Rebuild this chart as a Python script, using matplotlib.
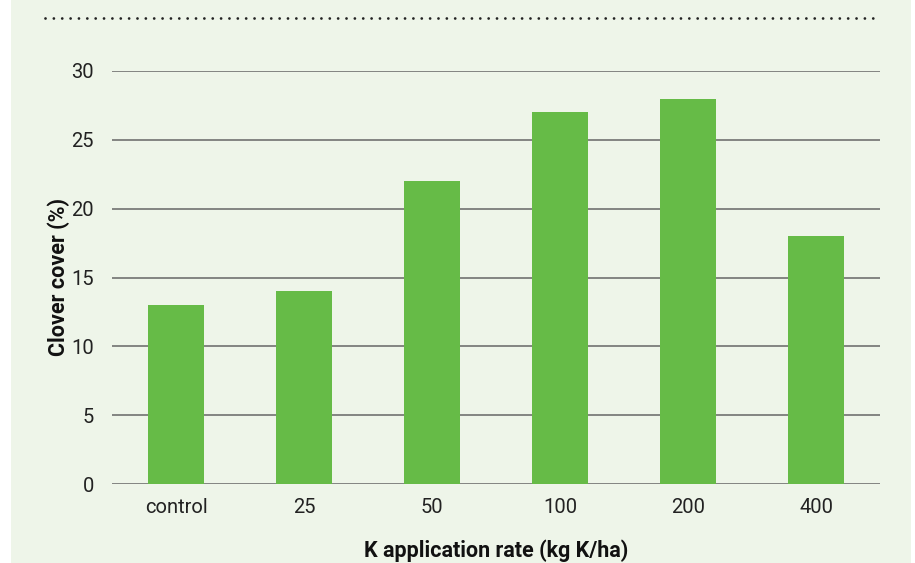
import matplotlib.pyplot as plt
from matplotlib.patches import Rectangle
from matplotlib.lines import Line2D

categories = ['control', '25', '50', '100', '200', '400']
clover_cover = [13, 14, 22, 27, 28, 18]
yticks = [0, 5, 10, 15, 20, 25, 30]

bg = '#eef5e9'
bar_color = '#66bb47'

plt.rcParams['font.family'] = ['Roboto', 'DejaVu Sans']

W, H = 915, 563
fig = plt.figure(figsize=(W / 100, H / 100), dpi=100)
fig.patch.set_facecolor('white')

# light green panel
fig.patches.append(Rectangle((11 / W, 0), 900 / W, 1, transform=fig.transFigure,
                             facecolor=bg, edgecolor='none', zorder=-5))
# dotted rule at top
fig.lines.append(Line2D([45 / W, 880 / W], [1 - 18 / H, 1 - 18 / H], transform=fig.transFigure,
                        color='#222222', lw=2, linestyle=(0, (0.01, 3)),
                        dash_capstyle='round', zorder=-4))

ax = fig.add_axes([112 / W, 1 - 484 / H, 768 / W, (484 - 71) / H])
ax.set_facecolor('none')
ax.set_zorder(2)

x = range(len(categories))
ax.bar(x, clover_cover, width=0.43, color=bar_color, zorder=3)

ax.set_xlim(-0.5, len(categories) - 0.5)
ax.set_ylim(0, 30)
ax.set_yticks(yticks)
ax.set_xticks(list(x))
ax.set_xticklabels(categories)
ax.yaxis.grid(True, color='#666666', lw=1.1, zorder=1)
ax.set_axisbelow(True)

for s in ax.spines.values():
    s.set_visible(False)
ax.tick_params(axis='both', length=0, labelsize=14.5, colors='#222222')
ax.tick_params(axis='y', pad=13)
ax.tick_params(axis='x', pad=10)

ax.set_ylabel('Clover cover (%)', fontsize=15.5, fontweight='bold', color='#111111', labelpad=1)
ax.set_xlabel('K application rate (kg K/ha)', fontsize=15.5, fontweight='bold', color='#111111', labelpad=16)

fig.savefig('out.png', dpi=100, facecolor=fig.get_facecolor())
